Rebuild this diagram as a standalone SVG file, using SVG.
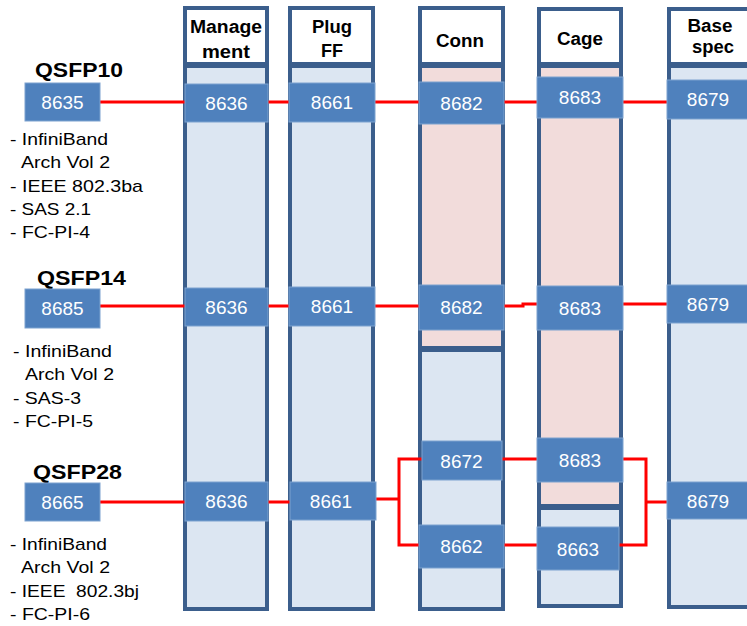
<svg xmlns="http://www.w3.org/2000/svg" width="747" height="626" viewBox="0 0 747 626">
<style>
.hdr{fill:#FFFFFF;stroke:#3B5E8C;stroke-width:4}
.body{fill:#DCE6F2;stroke:#3B5E8C;stroke-width:4}
.pink{fill:#F2DCDB;stroke:#3B5E8C;stroke-width:4}
.node rect{fill:#4F81BD;stroke:#7DA2CF;stroke-width:1}
.node text{fill:#FFFFFF;font-family:"Liberation Sans",Arial,sans-serif;font-size:19px;text-anchor:middle}
.ht{fill:#000;font-family:"Liberation Sans",Arial,sans-serif;font-size:18px;font-weight:bold;text-anchor:middle}
.title{fill:#000;font-family:"Liberation Sans",Arial,sans-serif;font-size:21px;font-weight:bold}
.lst{fill:#000;font-family:"Liberation Sans",Arial,sans-serif;font-size:17px}
.wire{fill:none;stroke:#FF0000;stroke-width:3}
</style>
<rect width="747" height="626" fill="#FFFFFF"/>

<g id="col-management">
<rect class="body" x="185" y="66" width="82" height="543"/>
<rect class="hdr" x="185" y="8" width="82" height="56"/>
<text class="ht" x="226" y="33" textLength="72" lengthAdjust="spacingAndGlyphs">Manage</text>
<text class="ht" x="226" y="58" textLength="48" lengthAdjust="spacingAndGlyphs">ment</text>
</g>
<g id="col-plugff">
<rect class="body" x="290" y="66" width="83" height="543"/>
<rect class="hdr" x="290" y="8" width="83" height="56"/>
<text class="ht" x="332" y="33" textLength="40" lengthAdjust="spacingAndGlyphs">Plug</text>
<text class="ht" x="332" y="57">FF</text>
</g>
<g id="col-conn">
<rect class="pink" x="420" y="66" width="83" height="282"/>
<rect class="body" x="420" y="350" width="83" height="259"/>
<rect class="hdr" x="420" y="8" width="83" height="56"/>
<text class="ht" x="460" y="47" textLength="48" lengthAdjust="spacingAndGlyphs">Conn</text>
</g>
<g id="col-cage">
<rect class="pink" x="539" y="66" width="82" height="440"/>
<rect class="body" x="539" y="508" width="82" height="98"/>
<rect class="hdr" x="539" y="9" width="82" height="55"/>
<text class="ht" x="580" y="45" textLength="46" lengthAdjust="spacingAndGlyphs">Cage</text>
</g>
<g id="col-basespec">
<rect class="body" x="669" y="66" width="90" height="541"/>
<rect class="hdr" x="669" y="9" width="90" height="55"/>
<text class="ht" x="710" y="32" textLength="45" lengthAdjust="spacingAndGlyphs">Base</text>
<text class="ht" x="713" y="53" textLength="42" lengthAdjust="spacingAndGlyphs">spec</text>
</g>

<g id="connectors">
<path class="wire" d="M100 102 H667"/>
<path class="wire" d="M100 306 H523 V304 H667"/>
<path class="wire" d="M100 502 H290"/>
<path class="wire" d="M375 499 H399"/>
<path class="wire" d="M422 459 H399 V545 H419"/>
<path class="wire" d="M502 459 H537"/>
<path class="wire" d="M504 545 H537"/>
<path class="wire" d="M623 459 H646 V545 H619"/>
<path class="wire" d="M646 502 H667"/>
</g>

<g id="labels">
<text class="title" x="35" y="77" textLength="88" lengthAdjust="spacingAndGlyphs">QSFP10</text>
<text class="lst" x="10" y="145" textLength="98" lengthAdjust="spacingAndGlyphs">- InfiniBand</text>
<text class="lst" x="21" y="168" textLength="89" lengthAdjust="spacingAndGlyphs">Arch Vol 2</text>
<text class="lst" x="10" y="192" textLength="133" lengthAdjust="spacingAndGlyphs">- IEEE 802.3ba</text>
<text class="lst" x="10" y="215" textLength="81" lengthAdjust="spacingAndGlyphs">- SAS 2.1</text>
<text class="lst" x="10" y="238" textLength="80" lengthAdjust="spacingAndGlyphs">- FC-PI-4</text>

<text class="title" x="37" y="285" textLength="89" lengthAdjust="spacingAndGlyphs">QSFP14</text>
<text class="lst" x="13" y="357" textLength="99" lengthAdjust="spacingAndGlyphs">- InfiniBand</text>
<text class="lst" x="25" y="380" textLength="89" lengthAdjust="spacingAndGlyphs">Arch Vol 2</text>
<text class="lst" x="13" y="404" textLength="68" lengthAdjust="spacingAndGlyphs">- SAS-3</text>
<text class="lst" x="13" y="427" textLength="80" lengthAdjust="spacingAndGlyphs">- FC-PI-5</text>

<text class="title" x="33" y="479" textLength="89" lengthAdjust="spacingAndGlyphs">QSFP28</text>
<text class="lst" x="10" y="550" textLength="97" lengthAdjust="spacingAndGlyphs">- InfiniBand</text>
<text class="lst" x="21" y="573" textLength="89" lengthAdjust="spacingAndGlyphs">Arch Vol 2</text>
<text class="lst" x="10" y="597" textLength="129" lengthAdjust="spacingAndGlyphs" xml:space="preserve">- IEEE  802.3bj</text>
<text class="lst" x="10" y="620" textLength="80" lengthAdjust="spacingAndGlyphs">- FC-PI-6</text>
</g>

<g id="n8635" class="node"><rect x="25" y="83" width="75" height="38"/><text x="62.5" y="109">8635</text></g>
<g id="n8636a" class="node"><rect x="185" y="84" width="83" height="38"/><text x="226.5" y="110">8636</text></g>
<g id="n8661a" class="node"><rect x="289" y="83" width="86" height="39"/><text x="332" y="109">8661</text></g>
<g id="n8682a" class="node"><rect x="419" y="82" width="85" height="42"/><text x="461.5" y="110">8682</text></g>
<g id="n8683a" class="node"><rect x="537" y="77" width="86" height="41"/><text x="580" y="104">8683</text></g>
<g id="n8679a" class="node"><rect x="667" y="80" width="82" height="39"/><text x="708" y="106">8679</text></g>

<g id="n8685" class="node"><rect x="25" y="289" width="75" height="39"/><text x="62.5" y="315">8685</text></g>
<g id="n8636b" class="node"><rect x="185" y="288" width="83" height="38"/><text x="226.5" y="314">8636</text></g>
<g id="n8661b" class="node"><rect x="289" y="287" width="86" height="39"/><text x="332" y="313">8661</text></g>
<g id="n8682b" class="node"><rect x="419" y="285" width="85" height="45"/><text x="461.5" y="314">8682</text></g>
<g id="n8683b" class="node"><rect x="537" y="286" width="86" height="44"/><text x="580" y="315">8683</text></g>
<g id="n8679b" class="node"><rect x="667" y="285" width="82" height="38"/><text x="708" y="311">8679</text></g>

<g id="n8665" class="node"><rect x="25" y="483" width="75" height="38"/><text x="62.5" y="509">8665</text></g>
<g id="n8636c" class="node"><rect x="185" y="482" width="83" height="39"/><text x="226.5" y="508">8636</text></g>
<g id="n8661c" class="node"><rect x="290" y="482" width="86" height="38"/><text x="331" y="508">8661</text></g>
<g id="n8672" class="node"><rect x="422" y="441" width="80" height="39"/><text x="461.5" y="468">8672</text></g>
<g id="n8662" class="node"><rect x="419" y="525" width="85" height="43"/><text x="461.5" y="553">8662</text></g>
<g id="n8683c" class="node"><rect x="537" y="438" width="86" height="44"/><text x="580" y="467">8683</text></g>
<g id="n8663" class="node"><rect x="537" y="527" width="82" height="43"/><text x="578" y="556">8663</text></g>
<g id="n8679c" class="node"><rect x="667" y="482" width="82" height="37"/><text x="708" y="508">8679</text></g>
</svg>
